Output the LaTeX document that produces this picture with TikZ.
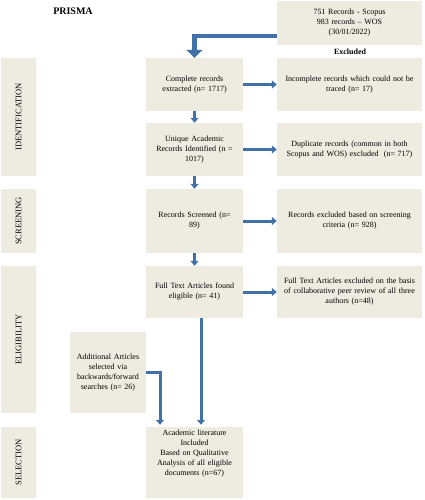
\documentclass[tikz,border=0pt]{standalone}
\usepackage{fontspec}
\setmainfont{Liberation Serif}
\usetikzlibrary{arrows.meta}
\definecolor{boxfill}{HTML}{EEECE1}
\definecolor{arrowblue}{HTML}{4270A8}
\tikzset{>={Triangle[width=8pt,length=5pt]}}
\tikzset{
  box/.style={fill=boxfill, inner sep=2pt, align=center, font=\fontsize{8}{10}\selectfont},
  midbox/.style={box, minimum width=97pt, text width=86pt},
  sidebox/.style={box, minimum width=145pt, text width=138pt},
  band/.style={fill=boxfill, rotate=90, inner sep=0pt, minimum height=35pt, font=\fontsize{8.5}{9}\selectfont},
  flow/.style={->, arrowblue, line width=3pt},
  bigflow/.style={flow, line width=4.5pt, -{Triangle[width=16pt,length=8pt]}}
}

\begin{document}
\begin{tikzpicture}[x=1pt,y=-1pt]
            \useasboundingbox (0,0) rectangle (425,500);
            \node (title) at (73,11) {\fontsize{10}{11}\selectfont\bfseries PRISMA};
            \node (excluded) at (350,52) {\fontsize{8}{10}\selectfont\bfseries Excluded};
            % stage bands
            \node (ident) [band, minimum width=118pt] at (18.5,117) {IDENTIFICATION};
            \node (screen) [band, minimum width=64pt] at (18.5,221) {SCREENING};
            \node (elig) [band, minimum width=147pt] at (18.5,339.5) {ELIGIBILITY};
            \node (select) [band, minimum width=71pt] at (18.5,462.5) {SELECTION};
            % boxes
            \node (source) [sidebox, minimum height=44pt] at (349.5,23) {751 Records - Scopus\\983 records -- WOS\\(30/01/2022)};
            \node (complete) [midbox, minimum height=53pt] at (194.5,84.5) {Complete records\\extracted (n= 1717)};
            \node (incomplete) [sidebox, minimum height=53pt] at (349.5,84.5) {Incomplete records which could not be\\traced (n= 17)};
            \node (unique) [midbox, minimum height=53pt] at (194.5,149.5) {Unique Academic\\Records Identified (n =\\1017)};
            \node (duplicate) [sidebox, minimum height=53pt] at (349.5,149.5) {Duplicate records (common in both\\Scopus and WOS) excluded~ (n= 717)};
            \node (screened) [midbox, minimum height=64pt] at (194.5,221) {Records Screened (n=\\89)};
            \node (screenout) [sidebox, minimum height=64pt] at (349.5,221) {Records excluded based on screening\\criteria (n= 928)};
            \node (fulltext) [midbox, minimum height=52pt] at (194.5,292) {Full Text Articles found\\eligible (n= 41)};
            \node (fullout) [sidebox, minimum height=52pt] at (349.5,292) {Full Text Articles excluded on the basis\\of collaborative peer review of all three\\authors (n=48)};
            \node (additional) [box, minimum width=76pt, text width=70pt, minimum height=81pt] at (108,372.5) {Additional Articles\\selected via\\backwards/forward\\searches (n= 26)};
            \node (included) [midbox, minimum height=71pt] at (194.5,462.5) {};
            \node (includedtext) [box, fill=none, text width=90pt, anchor=north] at ([yshift=-1pt]included.north) {Academic literature\\Included\\Based on Qualitative\\Analysis of all eligible\\documents (n=67)};
            % arrows
            \draw[bigflow] ([yshift=-13pt]source.west) -| (complete.north);
            \draw[flow] (complete) -- (incomplete);
            \draw[flow] (complete) -- (unique);
            \draw[flow] (unique) -- (duplicate);
            \draw[flow] (unique) -- (screened);
            \draw[flow] (screened) -- (screenout);
            \draw[flow] (screened) -- (fulltext);
            \draw[flow] (fulltext) -- (fullout);
            \draw[flow] ([xshift=6.5pt]fulltext.south) -- ([xshift=6.5pt,yshift=2pt]included.north);
            \draw[flow] (additional.east) -| ([xshift=-34.5pt,yshift=2pt]included.north);
        \end{tikzpicture}
\end{document}
